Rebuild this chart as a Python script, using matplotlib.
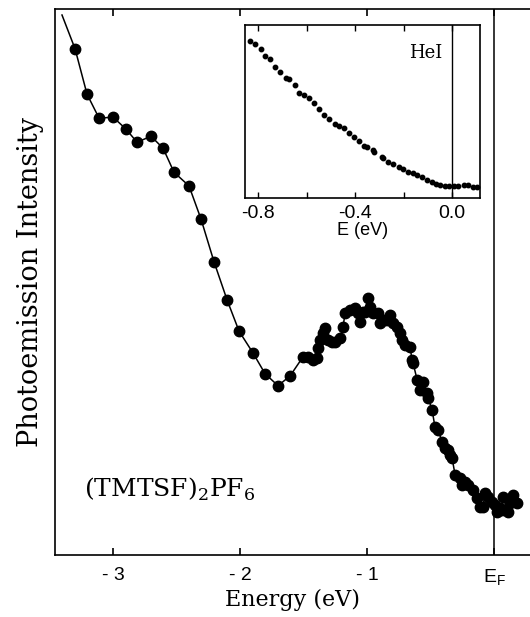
"""Espectro de fotoemissão do (TMTSF)2PF6 com inset HeI perto de E_F."""

import matplotlib
matplotlib.use("Agg")  # sem display
import matplotlib.pyplot as plt

plt.rcParams.update({
    "font.family": "DejaVu Serif",
    "mathtext.fontset": "custom",
    "mathtext.rm": "DejaVu Serif",
    "mathtext.sf": "Liberation Sans",
    "axes.linewidth": 1.2,
})

# espectro principal (energia em eV, intensidade em unidades arbitrárias)
energy = [
    -3.402, -3.299, -3.205, -3.110, -3.000, -2.898, -2.811, -2.701, -2.606,
    -2.520, -2.402, -2.307, -2.205, -2.102, -2.008, -1.898, -1.803, -1.701,
    -1.606, -1.504, -1.465, -1.425, -1.394, -1.386, -1.370, -1.346, -1.331,
    -1.307, -1.276, -1.252, -1.213, -1.189, -1.173, -1.134, -1.094, -1.071,
    -1.055, -1.031, -1.016, -0.992, -0.976, -0.953, -0.913, -0.898, -0.866,
    -0.843, -0.819, -0.795, -0.764, -0.740, -0.724, -0.701, -0.661, -0.646,
    -0.638, -0.606, -0.583, -0.559, -0.528, -0.520, -0.488, -0.465, -0.441,
    -0.409, -0.386, -0.362, -0.346, -0.331, -0.307, -0.268, -0.252, -0.228,
    -0.205, -0.165, -0.134, -0.110, -0.087, -0.071, -0.047, -0.016, 0.008,
    0.024, 0.047, 0.063, 0.071, 0.110, 0.126, 0.150, 0.181,
]
intensity = [
    98.9, 92.7, 84.4, 80.0, 80.2, 78.0, 75.6, 76.7, 74.5,
    70.1, 67.6, 61.5, 53.7, 46.7, 41.0, 37.0, 33.2, 31.0,
    32.8, 36.3, 36.3, 35.7, 36.1, 37.9, 39.4, 40.7, 41.6,
    39.4, 39.0, 39.0, 39.7, 41.8, 44.3, 44.9, 45.2, 44.3,
    42.7, 44.5, 44.5, 47.1, 45.4, 44.3, 44.3, 42.5, 43.0,
    43.0, 44.0, 42.5, 41.8, 40.7, 39.4, 38.5, 38.1, 35.7,
    35.2, 32.1, 30.2, 31.7, 29.7, 28.8, 26.6, 23.4, 22.9,
    20.7, 19.6, 19.2, 18.3, 17.8, 14.7, 14.1, 12.8, 13.4,
    12.8, 11.9, 10.4, 8.8, 8.8, 11.4, 10.6, 9.7, 9.2,
    7.9, 8.6, 8.2, 10.6, 7.9, 9.5, 11.0, 9.5,
]

# inset HeI, alta resolução perto do nível de Fermi
inset_energy = [
    -0.833, -0.811, -0.790, -0.770, -0.749, -0.729, -0.708, -0.687, -0.671,
    -0.647, -0.630, -0.609, -0.591, -0.568, -0.547, -0.527, -0.506, -0.482,
    -0.465, -0.447, -0.424, -0.403, -0.382, -0.362, -0.349, -0.327, -0.322,
    -0.290, -0.283, -0.263, -0.242, -0.221, -0.201, -0.180, -0.162, -0.146,
    -0.125, -0.104, -0.084, -0.066, -0.049, -0.029, -0.011, 0.008, 0.026,
    0.047, 0.067, 0.088, 0.104,
]
inset_intensity = [
    90.9, 89.0, 86.0, 82.1, 80.2, 75.9, 73.0, 69.2, 68.6,
    65.3, 60.9, 59.5, 58.0, 55.1, 51.3, 48.0, 45.5, 42.8,
    41.6, 40.3, 37.4, 35.4, 33.1, 30.1, 29.7, 27.7, 26.8,
    23.9, 22.9, 21.0, 19.7, 18.1, 16.6, 15.2, 14.3, 13.3,
    12.0, 10.4, 9.1, 8.1, 7.7, 7.1, 7.1, 7.1, 7.1,
    7.7, 7.7, 6.5, 6.5,
]

main_ticks = [-3, -2, -1, 0]
main_ticklabels = ["- 3", "- 2", "- 1", r"E$_\mathsf{F}$"]
inset_ticks = [-0.8, -0.6, -0.4, -0.2, 0.0]
inset_ticklabels = ["-0.8", "", "-0.4", "", "0.0"]

fig = plt.figure(figsize=(5.30, 6.17), dpi=100)
ax = fig.add_axes([0.1038, 0.1005, 0.8962, 0.8849])

ax.plot(energy, intensity, color="black", linewidth=1.1, zorder=2)
ax.plot(energy[1:], intensity[1:], linestyle="none", marker="o",
        markersize=7.5, color="black", zorder=3)
ax.axvline(0, color="black", linewidth=1.1, zorder=1)

ax.set_xlim(-3.457, 0.283)
ax.set_ylim(0, 100)
ax.spines["right"].set_visible(False)
ax.set_xticks(main_ticks)
ax.set_xticklabels(main_ticklabels, family="Liberation Sans", fontsize=14)
ax.set_yticks([])
ax.tick_params(axis="x", direction="in", top=True, length=5, width=1.2, pad=9)
ax.set_xlabel("Energy (eV)", fontsize=16, labelpad=1)
ax.set_ylabel("Photoemission Intensity", fontsize=19.5, labelpad=8)

ax.text(0.06, 0.121, r"(TMTSF)$_2$PF$_6$", transform=ax.transAxes,
        fontsize=18, ha="left", va="center")

# inset
axi = fig.add_axes([0.4623, 0.6791, 0.4434, 0.2804])
axi.plot(inset_energy, inset_intensity, linestyle="none", marker="o",
         markersize=3.2, color="black")
axi.axvline(0, color="black", linewidth=1.0)
axi.set_xlim(-0.854, 0.115)
axi.set_ylim(0, 100)
axi.set_xticks(inset_ticks)
axi.set_xticklabels(inset_ticklabels, family="Liberation Sans", fontsize=14)
axi.set_yticks([])
axi.tick_params(axis="x", direction="in", top=True, length=4, width=1.0, pad=5)
axi.set_xlabel("E (eV)", family="Liberation Sans", fontsize=13, labelpad=0)
axi.text(0.84, 0.84, "HeI", transform=axi.transAxes, fontsize=13,
         ha="right", va="center")

fig.savefig("out.png", dpi=100)
